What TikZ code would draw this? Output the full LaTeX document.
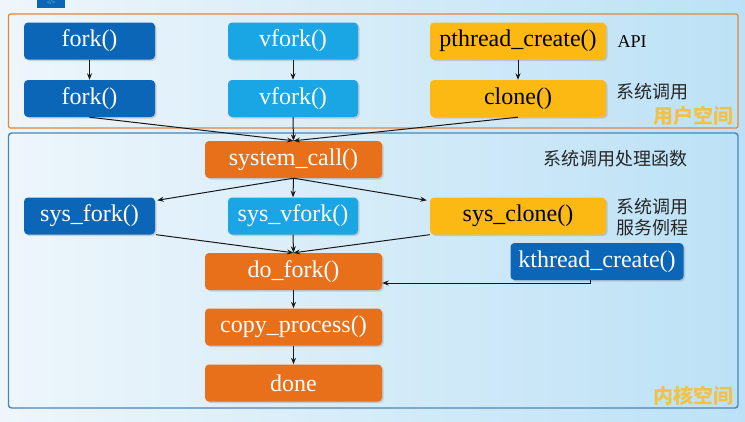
\documentclass[tikz,border=0pt]{standalone}
\usepackage{fontspec}
\setmainfont{Liberation Serif}
\newfontfamily\cjk{Noto Sans CJK SC}
\usetikzlibrary{shadows,arrows.meta,calc}
\definecolor{dkblue}{HTML}{0B66B8}
\definecolor{ltblue}{HTML}{1AA6E4}
\definecolor{gold}{HTML}{FDB913}
\definecolor{orng}{HTML}{E8701A}
\definecolor{bgl}{HTML}{EEF6FB}
\definecolor{bgr}{HTML}{BCE1F6}
\definecolor{userframe}{HTML}{E8843C}
\definecolor{kernframe}{HTML}{4A86B8}
\definecolor{spacelab}{HTML}{F0C24A}
\begin{document}
\begin{tikzpicture}[x=1pt,y=-1pt,
  box/.style={rounded corners=4pt, minimum height=37pt, inner sep=0pt,
    font=\fontsize{24}{24}\selectfont,
    drop shadow={shadow xshift=1.5pt,shadow yshift=-1.5pt,opacity=0.3}},
  dk/.style={box, fill=dkblue, text=white},
  lt/.style={box, fill=ltblue, text=white},
  gd/.style={box, fill=gold, text=black},
  or/.style={box, fill=orng, text=white},
  arr/.style={-{Stealth[length=6.5pt,width=5pt]}, line width=1pt, black!90},
  lab/.style={font=\cjk\fontsize{18}{21}\selectfont, text=black!85, align=left},
  spacelabel/.style={font=\cjk\fontsize{20}{20}\selectfont\bfseries, text=spacelab}]
\useasboundingbox (0,0) rectangle (745,421);
\shade[left color=bgl, right color=bgr] (0,0) rectangle (745,421);
% top tab
\fill[dkblue] (37,0) rectangle (65,8);
\node[font=\fontsize{6}{6}\selectfont, text=white!70!dkblue] (tab) at (51,3) {</>};
% frames
\draw[userframe, line width=1.2pt, rounded corners=2pt] (8.5,14) rectangle (738,128);
\draw[kernframe, line width=1.4pt, rounded corners=3pt] (8.5,133) rectangle (738,408);
\node[spacelabel] (ulab) at (693,116) {用户空间};
\node[spacelabel] (klab) at (693,396) {内核空间};
% user space
\node[dk, minimum width=131pt] (fork1) at (89.5,41) {fork()};
\node[lt, minimum width=130pt] (vfork1) at (293,41) {vfork()};
\node[gd, minimum width=176pt] (pth) at (518,41) {pthread\_create()};
\node[dk, minimum width=131pt] (fork2) at (89.5,98.5) {fork()};
\node[lt, minimum width=130pt] (vfork2) at (293,98.5) {vfork()};
\node[gd, minimum width=176pt] (clone) at (518,98.5) {clone()};
\node[font=\fontsize{18}{18}\selectfont, anchor=west] (api) at (614,42) {API};
\node[lab, anchor=west] (sc1) at (613,92) {系统调用};
% kernel
\node[or, minimum width=177pt] (syscall) at (293.5,159.5) {system\_call()};
\node[lab, anchor=east] (sch) at (691,159) {系统调用处理函数};
\node[dk, minimum width=131pt] (sysfork) at (89.5,216) {sys\_fork()};
\node[lt, minimum width=130pt] (sysvfork) at (293,216) {sys\_vfork()};
\node[gd, minimum width=176pt] (sysclone) at (518,216) {sys\_clone()};
\node[lab, anchor=west] (svc) at (613,217) {系统调用\\服务例程};
\node[dk, minimum width=173pt] (kth) at (597,261.5) {kthread\_create()};
\node[or, minimum width=177pt] (dofork) at (293.5,271.5) {do\_fork()};
\node[or, minimum width=177pt] (copy) at (293.5,327) {copy\_process()};
\node[or, minimum width=177pt] (done) at (293.5,383) {done};
% arrows
\draw[arr] (fork1) -- (fork2);
\draw[arr] (vfork1) -- (vfork2);
\draw[arr] (pth) -- (clone);
\draw[arr] (fork2.south) -- (syscall.north);
\draw[arr] (vfork2.south) -- (syscall.north);
\draw[arr] (clone.south) -- (syscall.north);
\draw[arr] (syscall.south) -- ([xshift=2pt,yshift=-3pt]sysfork.north east);
\draw[arr] (syscall.south) -- (sysvfork.north);
\draw[arr] (syscall.south) -- ([xshift=-3pt,yshift=-3pt]sysclone.north west);
\draw[arr] ([xshift=1pt]sysfork.south east) -- (dofork.north);
\draw[arr] (sysvfork.south) -- (dofork.north);
\draw[arr] (sysclone.south west) -- (dofork.north);
\draw[arr] ([xshift=-7pt]kth.south) |- ([yshift=-11.5pt]dofork.east);
\draw[arr] (dofork) -- (copy);
\draw[arr] (copy) -- (done);
\end{tikzpicture}
\end{document}
